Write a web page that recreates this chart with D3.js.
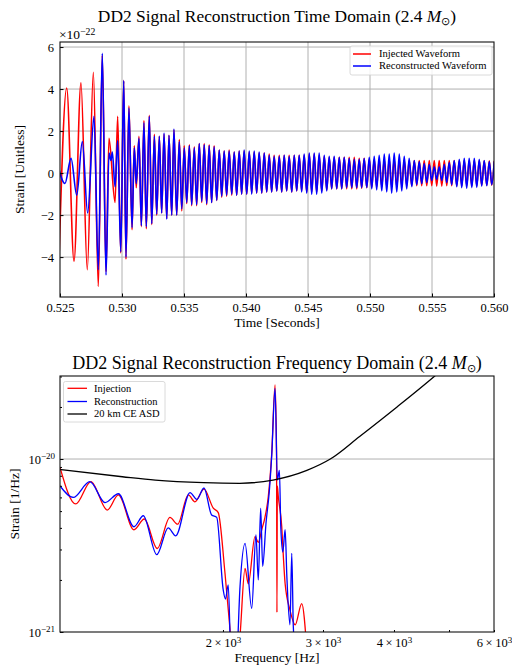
<!DOCTYPE html>
<html>
<head>
<meta charset="utf-8">
<script src="https://cdn.jsdelivr.net/npm/d3@7"></script>
<style>
  body { margin: 0; background: #fff; }
  svg text { font-family: "Liberation Serif", "Times New Roman", serif; fill: #000; }
</style>
</head>
<body>
<div id="chart"></div>
<script>
// ---- time domain: extrema (strain in units of 1e-22) ----
const injTimes = [0.52493, 0.52554, 0.52613, 0.52669, 0.52720, 0.52769, 0.52809,
  0.52841, 0.52871, 0.52895, 0.52944, 0.52965, 0.52990, 0.53014, 0.53032, 0.53056, 0.53081,
  0.53099, 0.53115, 0.53137, 0.53156, 0.53177, 0.53196, 0.53220, 0.53240, 0.53261, 0.53280,
  0.53301, 0.53320, 0.53339, 0.53361, 0.53379, 0.53401, 0.53419, 0.53441, 0.53462, 0.53482,
  0.53502, 0.53522, 0.53543, 0.53562, 0.53583, 0.53602, 0.53623, 0.53643];
const injStrain = [-3.9, 4.05, -4.2, 4.3, -4.6, 4.8, -5.4,
  5.6, -4.7, 1.65, -1.4, 2.7, -3.8, 4.4, -4.1, 3.2, -2.7,
  1.3, -0.7, 1.75, -2.55, 2.5, -2.65, 2.75, -2.45, 1.85, -2.0,
  1.75, -1.9, 1.85, -2.15, 1.8, -2.0, 2.05, -2.0, 1.6, -1.8,
  1.3, -1.45, 1.35, -1.55, 1.25, -1.55, 1.4, -1.4];

const recTimes = [0.52484, 0.52540, 0.52589, 0.52635, 0.52680, 0.52723, 0.52774, 0.52809,
  0.52841, 0.52871, 0.52895, 0.52911, 0.52922, 0.52944, 0.52965, 0.52990, 0.53014, 0.53032,
  0.53056, 0.53081, 0.53099, 0.53115, 0.53137, 0.53156, 0.53177, 0.53196, 0.53220, 0.53240,
  0.53261, 0.53280, 0.53301, 0.53320, 0.53339, 0.53361, 0.53379, 0.53401, 0.53419, 0.53441,
  0.53462, 0.53482, 0.53502, 0.53522, 0.53543, 0.53562, 0.53583, 0.53602, 0.53623, 0.53643];
const recStrain = [0.35, -0.5, 0.7, -1.05, 1.5, -1.9, 2.7, -4.6,
  5.7, -4.85, 0.95, 0.6, 1.0, -0.65, 1.55, -3.75, 4.4, -4.0,
  3.1, -2.6, 1.2, -0.5, 1.65, -2.5, 2.4, -2.55, 2.7, -2.4,
  1.75, -1.95, 1.75, -1.9, 1.9, -2.2, 1.8, -2.0, 2.1, -2.0,
  1.5, -1.7, 1.2, -1.4, 1.3, -1.5, 1.2, -1.5, 1.4, -1.35];

// ringdown part, same extremum times for both series
const tailTimes = [0.53663, 0.53683, 0.53703, 0.53723, 0.53743, 0.53764, 0.53784, 0.53804, 0.53824, 0.53844,
  0.53864, 0.53885, 0.53905, 0.53925, 0.53945, 0.53965, 0.53985, 0.54006, 0.54026, 0.54046,
  0.54066, 0.54086, 0.54106, 0.54127, 0.54147, 0.54167, 0.54187, 0.54207, 0.54227, 0.54248,
  0.54268, 0.54288, 0.54308, 0.54328, 0.54348, 0.54369, 0.54389, 0.54409, 0.54429, 0.54449,
  0.54469, 0.54490, 0.54510, 0.54530, 0.54550, 0.54570, 0.54590, 0.54611, 0.54631, 0.54651,
  0.54671, 0.54691, 0.54711, 0.54732, 0.54752, 0.54772, 0.54792, 0.54812, 0.54832, 0.54853,
  0.54873, 0.54893, 0.54913, 0.54933, 0.54953, 0.54974, 0.54994, 0.55014, 0.55034, 0.55054,
  0.55074, 0.55095, 0.55115, 0.55135, 0.55155, 0.55175, 0.55195, 0.55216, 0.55236, 0.55256,
  0.55276, 0.55296, 0.55316, 0.55337, 0.55357, 0.55377, 0.55397, 0.55417, 0.55437, 0.55458,
  0.55478, 0.55498, 0.55518, 0.55538, 0.55558, 0.55579, 0.55599, 0.55619, 0.55639, 0.55659,
  0.55679, 0.55700, 0.55720, 0.55740, 0.55760, 0.55780, 0.55800, 0.55821, 0.55841, 0.55861,
  0.55881, 0.55901, 0.55921, 0.55942, 0.55962, 0.55982, 0.56002];
const injTail = [1.4, -1.5, 1.35, -1.4, 1.3, -1.3, 1.1, -1.15, 1.05, -1.1,
  1.1, -1.05, 1.0, -1.05, 1.05, -1.0, 1.05, -1.0, 1.0, -0.95,
  1.0, -0.95, 0.95, -0.95, 0.95, -0.9, 0.9, -0.9, 0.85, -0.85,
  0.85, -0.9, 0.85, -0.85, 0.85, -0.9, 0.85, -0.85, 0.85, -0.85,
  0.85, -0.9, 0.9, -0.9, 0.9, -0.9, 0.85, -0.85, 0.8, -0.8,
  0.75, -0.75, 0.75, -0.75, 0.75, -0.75, 0.75, -0.75, 0.75, -0.75,
  0.75, -0.75, 0.7, -0.72, 0.7, -0.7, 0.68, -0.68, 0.65, -0.65,
  0.65, -0.65, 0.65, -0.65, 0.65, -0.65, 0.65, -0.65, 0.62, -0.62,
  0.62, -0.62, 0.6, -0.6, 0.6, -0.6, 0.6, -0.6, 0.6, -0.6,
  0.6, -0.6, 0.6, -0.62, 0.6, -0.62, 0.6, -0.6, 0.6, -0.6,
  0.6, -0.6, 0.6, -0.6, 0.6, -0.6, 0.6, -0.6, 0.6, -0.6,
  0.6, -0.58, 0.58, -0.58, 0.58, -0.58, 0.58];
const recTail = [1.35, -1.45, 1.3, -1.4, 1.25, -1.3, 1.1, -1.1, 1.05, -1.05,
  1.05, -1.0, 1.0, -1.05, 1.05, -1.0, 1.1, -1.0, 1.05, -1.0,
  1.05, -0.95, 1.0, -0.95, 0.95, -0.9, 0.85, -0.9, 0.8, -0.85,
  0.8, -0.9, 0.85, -0.85, 0.8, -0.9, 0.85, -0.85, 0.85, -0.9,
  0.9, -0.95, 0.95, -1.0, 0.95, -1.0, 0.95, -0.95, 0.85, -0.85,
  0.8, -0.75, 0.8, -0.75, 0.75, -0.75, 0.75, -0.7, 0.7, -0.7,
  0.65, -0.7, 0.65, -0.7, 0.7, -0.7, 0.75, -0.75, 0.8, -0.8,
  0.85, -0.85, 0.9, -0.9, 0.9, -0.95, 0.95, -0.9, 0.9, -0.85,
  0.8, -0.75, 0.7, -0.65, 0.6, -0.55, 0.55, -0.5, 0.45, -0.45,
  0.4, -0.35, 0.3, -0.3, 0.3, -0.35, 0.4, -0.45, 0.5, -0.55,
  0.6, -0.65, 0.65, -0.7, 0.7, -0.72, 0.7, -0.7, 0.7, -0.68,
  0.65, -0.62, 0.6, -0.6, 0.55, -0.55, 0.55];

const timeTicks = [0.525, 0.530, 0.535, 0.540, 0.545, 0.550, 0.555, 0.560];
const strainTicks = [-4, -2, 0, 2, 4, 6];

// ---- frequency domain (strain in units of 1e-21) ----
const injFreq = [1033, 1101, 1171, 1251, 1309, 1394, 1454, 1532, 1613, 1664, 1738, 1785, 1852,
  1923, 1962, 2016, 2072, 2100, 2143, 2187, 2216, 2277, 2308, 2340, 2371, 2403, 2437, 2470,
  2485, 2489, 2493, 2503, 2538, 2555, 2573, 2624, 2680, 2752, 2809];
const injAmp = [8.95, 5.5, 7.4, 5.07, 6.2, 3.9, 4.5, 3.04, 4.6, 4.2, 6.2, 5.66, 6.7,
  5.2, 4.9, 2.2, 0.8, 0.5, 0.95, 2.33, 1.9, 3.56, 3.3, 3.9, 4.6, 6.05, 10.8, 26.8,
  11, 1.3, 7, 6.05, 4.06, 2.7, 1.9, 1.34, 1.1, 1.46, 0.8];
const recFreq = [1033, 1090, 1166, 1240, 1309, 1394, 1448, 1529, 1602, 1651, 1750, 1798, 1852,
  1910, 1950, 2002, 2020, 2043, 2072, 2110, 2143, 2187, 2247, 2286, 2308, 2330, 2349, 2381,
  2413, 2437, 2470, 2493, 2514, 2528, 2549, 2573, 2591, 2624, 2643, 2660, 2700];
const recAmp = [7.0, 6.0, 7.4, 5.6, 6.3, 4.06, 4.7, 2.8, 4.0, 3.6, 6.4, 5.85, 6.8,
  4.75, 4.6, 1.75, 1.55, 1.87, 0.5, 0.6, 1.83, 3.25, 1.37, 3.64, 2.0, 5.2, 2.4, 4.25,
  6.5, 10.5, 25.6, 7.55, 8.6, 4.06, 2.9, 3.9, 2.1, 1.1, 2.85, 1.07, 0.6];
const asdFreq = [1030, 1330, 1520, 1850, 2140, 2450, 2810, 3090, 3480, 4050, 4720, 6000];
const asdAmp = [8.7, 7.9, 7.55, 7.3, 7.24, 7.56, 8.6, 10, 13.5, 20, 30.2, 62];

const freqLabels = [2000, 3000, 4000, 6000];
const freqMinor = [2000, 3000, 4000, 5000, 6000];

const width = 512, height = 667;
const svg = d3.select("#chart").append("svg")
  .attr("width", width).attr("height", height)
  .attr("viewBox", [0, 0, width, height]);

const red = "#ff0000", blue = "#0000ff", gridCol = "#b0b0b0";

function sup(sel, base, exp) {
  sel.text(null);
  sel.append("tspan").text(base);
  sel.append("tspan").attr("dy", "-0.45em").attr("font-size", "0.72em").text(exp);
}

// ================= top: time domain =================
const box1 = { left: 60, right: 494, top: 42, bottom: 297 };
const x1 = d3.scaleLinear().domain([0.525, 0.560]).range([box1.left, box1.right]);
const y1 = d3.scaleLinear().domain([-5.9, 6.24]).range([box1.bottom, box1.top]);

svg.append("clipPath").attr("id", "clip1").append("rect")
  .attr("x", box1.left).attr("y", box1.top)
  .attr("width", box1.right - box1.left).attr("height", box1.bottom - box1.top);

const g1 = svg.append("g");
g1.selectAll("line.vg").data(timeTicks.slice(1, -1)).join("line")
  .attr("x1", d => x1(d)).attr("x2", d => x1(d))
  .attr("y1", box1.top).attr("y2", box1.bottom)
  .attr("stroke", gridCol).attr("stroke-width", 1);
g1.selectAll("line.hg").data(strainTicks).join("line")
  .attr("x1", box1.left).attr("x2", box1.right)
  .attr("y1", d => y1(d)).attr("y2", d => y1(d))
  .attr("stroke", gridCol).attr("stroke-width", 1);

const injSeries = injTimes.map((t, i) => [t, injStrain[i]])
  .concat(tailTimes.map((t, i) => [t, injTail[i]]));
const recSeries = recTimes.map((t, i) => [t, recStrain[i]])
  .concat(tailTimes.map((t, i) => [t, recTail[i]]));

const line1 = d3.line().x(d => x1(d[0])).y(d => y1(d[1])).curve(d3.curveMonotoneX);
const lines1 = svg.append("g").attr("clip-path", "url(#clip1)");
lines1.append("path").datum(injSeries).attr("d", line1)
  .attr("fill", "none").attr("stroke", red).attr("stroke-width", 1.6);
lines1.append("path").datum(recSeries).attr("d", line1)
  .attr("fill", "none").attr("stroke", blue).attr("stroke-width", 1.6);

svg.append("g").attr("transform", `translate(0,${box1.bottom})`)
  .call(d3.axisBottom(x1).tickValues(timeTicks).tickSize(-3.5).tickPadding(6.5)
    .tickFormat(d3.format(".3f")))
  .call(g => g.select(".domain").remove())
  .call(g => g.selectAll("text").attr("font-size", 12.5).attr("font-family", null));
svg.append("g").attr("transform", `translate(${box1.left},0)`)
  .call(d3.axisLeft(y1).tickValues(strainTicks).tickSize(-3.5).tickPadding(6)
    .tickFormat(d => d < 0 ? "\u2212" + Math.abs(d) : d))
  .call(g => g.select(".domain").remove())
  .call(g => g.selectAll("text").attr("font-size", 12.5).attr("font-family", null));

svg.append("rect").attr("x", box1.left).attr("y", box1.top)
  .attr("width", box1.right - box1.left).attr("height", box1.bottom - box1.top)
  .attr("fill", "none").attr("stroke", "#111").attr("stroke-width", 1.1);

svg.append("text").attr("x", box1.left - 1).attr("y", 39).attr("font-size", 13.5)
  .call(t => sup(t, "\u00d710", "\u221222"));

const title1 = svg.append("text").attr("x", (box1.left + box1.right) / 2).attr("y", 22)
  .attr("text-anchor", "middle").attr("font-size", 17.4);
title1.append("tspan").text("DD2 Signal Reconstruction Time Domain (2.4 ");
title1.append("tspan").attr("font-style", "italic").text("M");
title1.append("tspan").attr("dy", 3).attr("font-size", 11).text("\u2299");
title1.append("tspan").attr("dy", -3).text(")");

svg.append("text").attr("x", (box1.left + box1.right) / 2).attr("y", 327)
  .attr("text-anchor", "middle").attr("font-size", 13.5).text("Time [Seconds]");
svg.append("text").attr("transform", `translate(24,${(box1.top + box1.bottom) / 2}) rotate(-90)`)
  .attr("text-anchor", "middle").attr("font-size", 13.5).text("Strain [Unitless]");

// legend (top)
const leg1 = svg.append("g");
leg1.append("rect").attr("x", 350).attr("y", 46).attr("width", 142).attr("height", 29)
  .attr("rx", 2).attr("fill", "#fff").attr("fill-opacity", 0.85)
  .attr("stroke", "#d0d0d0").attr("stroke-width", 0.8);
[["Injected Waveform", red, 54], ["Reconstructed Waveform", blue, 66]].forEach(([lab, c, yy]) => {
  leg1.append("line").attr("x1", 353).attr("x2", 371).attr("y1", yy).attr("y2", yy)
    .attr("stroke", c).attr("stroke-width", 1.5);
  leg1.append("text").attr("x", 379).attr("y", yy).attr("dy", "0.33em")
    .attr("font-size", 10.6).text(lab);
});

// ================= bottom: frequency domain =================
const box2 = { left: 60, right: 494, top: 376, bottom: 632 };
const x2 = d3.scaleLog().domain([1033, 6000]).range([box2.left, box2.right]);
const y2 = d3.scaleLog().domain([1e-21, 3.02e-20]).range([box2.bottom, box2.top]);

svg.append("clipPath").attr("id", "clip2").append("rect")
  .attr("x", box2.left).attr("y", box2.top)
  .attr("width", box2.right - box2.left).attr("height", box2.bottom - box2.top);

svg.append("line").attr("x1", box2.left).attr("x2", box2.right)
  .attr("y1", y2(1e-20)).attr("y2", y2(1e-20))
  .attr("stroke", gridCol).attr("stroke-width", 1);

const line2 = d3.line().x(d => x2(d[0])).y(d => y2(d[1] * 1e-21)).curve(d3.curveMonotoneX);
const lines2 = svg.append("g").attr("clip-path", "url(#clip2)");
lines2.append("path").datum(injFreq.map((f, i) => [f, injAmp[i]])).attr("d", line2)
  .attr("fill", "none").attr("stroke", red).attr("stroke-width", 1.3);
lines2.append("path").datum(recFreq.map((f, i) => [f, recAmp[i]])).attr("d", line2)
  .attr("fill", "none").attr("stroke", blue).attr("stroke-width", 1.3);
lines2.append("path").datum(asdFreq.map((f, i) => [f, asdAmp[i]])).attr("d", line2)
  .attr("fill", "none").attr("stroke", "#000").attr("stroke-width", 1.3);

svg.append("g").attr("transform", `translate(0,${box2.bottom})`)
  .call(d3.axisBottom(x2).tickValues(freqMinor).tickSize(-2).tickPadding(6)
    .tickFormat(d => freqLabels.includes(d) ? d / 1000 : ""))
  .call(g => g.select(".domain").remove())
  .call(g => g.selectAll("text").attr("font-size", 12.5).attr("font-family", null)
    .each(function(d) {
      if (!freqLabels.includes(d)) return;
      sup(d3.select(this), (d / 1000) + "\u2009\u00d7\u200910", "3");
    }));

svg.append("g").attr("transform", `translate(${box2.left},0)`)
  .call(d3.axisLeft(y2).tickValues([1e-21, 1e-20]).tickSize(-3.5).tickPadding(5)
    .tickFormat(d => d))
  .call(g => g.select(".domain").remove())
  .call(g => g.selectAll("text").attr("font-size", 12.5).attr("font-family", null)
    .each(function(d) {
      sup(d3.select(this), "10", d > 5e-21 ? "\u221220" : "\u221221");
    }));
svg.append("g").attr("transform", `translate(${box2.left},0)`)
  .call(d3.axisLeft(y2).tickValues([2e-21, 3e-21, 4e-21, 5e-21, 6e-21, 7e-21, 8e-21, 9e-21, 2e-20, 3e-20])
    .tickSize(-2).tickFormat(""))
  .call(g => g.select(".domain").remove());

svg.append("rect").attr("x", box2.left).attr("y", box2.top)
  .attr("width", box2.right - box2.left).attr("height", box2.bottom - box2.top)
  .attr("fill", "none").attr("stroke", "#111").attr("stroke-width", 1.1);

const title2 = svg.append("text").attr("x", (box2.left + box2.right) / 2).attr("y", 369)
  .attr("text-anchor", "middle").attr("font-size", 18);
title2.append("tspan").text("DD2 Signal Reconstruction Frequency Domain (2.4 ");
title2.append("tspan").attr("font-style", "italic").text("M");
title2.append("tspan").attr("dy", 3).attr("font-size", 11).text("\u2299");
title2.append("tspan").attr("dy", -3).text(")");

svg.append("text").attr("x", (box2.left + box2.right) / 2).attr("y", 662)
  .attr("text-anchor", "middle").attr("font-size", 13.5).text("Frequency [Hz]");
svg.append("text").attr("transform", `translate(19,${(box2.top + box2.bottom) / 2}) rotate(-90)`)
  .attr("text-anchor", "middle").attr("font-size", 13.5).text("Strain [1/Hz]");

// legend (bottom)
const leg2 = svg.append("g");
leg2.append("rect").attr("x", 63.5).attr("y", 381.5).attr("width", 101.5).attr("height", 40.5)
  .attr("rx", 2).attr("fill", "#fff").attr("fill-opacity", 0.85)
  .attr("stroke", "#d0d0d0").attr("stroke-width", 0.8);
[["Injection", red, 388.3], ["Reconstruction", blue, 401.5], ["20 km CE ASD", "#000", 414]].forEach(([lab, c, yy]) => {
  leg2.append("line").attr("x1", 67.5).attr("x2", 87).attr("y1", yy).attr("y2", yy)
    .attr("stroke", c).attr("stroke-width", 1.3);
  leg2.append("text").attr("x", 94).attr("y", yy).attr("dy", "0.33em")
    .attr("font-size", 10.5).text(lab);
});
</script>
</body>
</html>
